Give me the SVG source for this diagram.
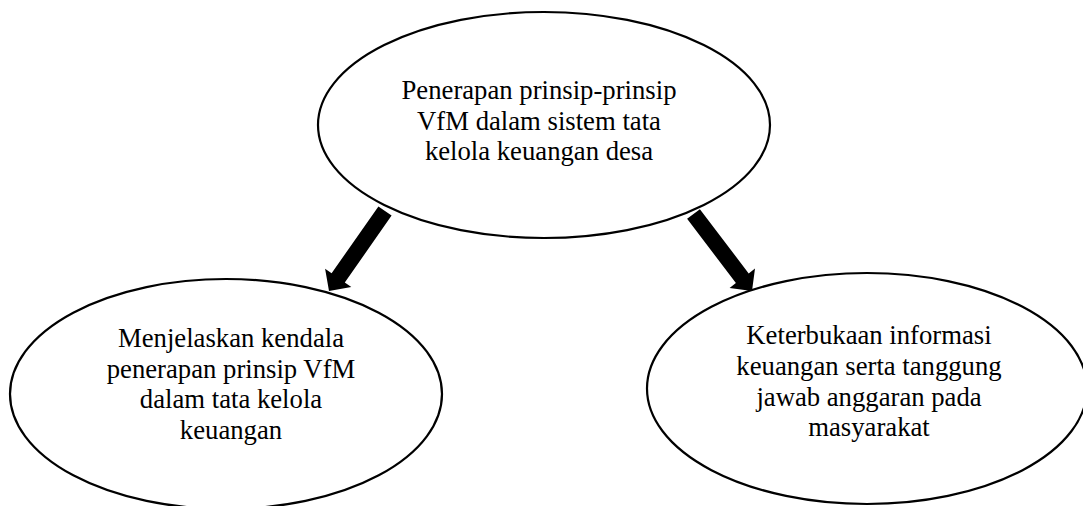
<svg xmlns="http://www.w3.org/2000/svg" width="1083" height="506" viewBox="0 0 1083 506">
<style>
.node ellipse{fill:#fff;stroke:#000;stroke-width:2.2}
.node text{font-family:"Liberation Serif","Times New Roman",serif;font-size:26.7px;fill:#000;text-anchor:middle}
.arrow{fill:#000;stroke:none}
</style>
<rect width="1083" height="506" fill="#fff"/>
<g id="node-top" class="node">
<ellipse cx="544" cy="125" rx="226" ry="113"/>
<text x="539" y="99">Penerapan prinsip-prinsip</text>
<text x="539" y="129.5">VfM dalam sistem tata</text>
<text x="539" y="160">kelola keuangan desa</text>
</g>
<g id="node-left" class="node">
<ellipse cx="226" cy="394" rx="216" ry="115"/>
<text x="231" y="347">Menjelaskan kendala</text>
<text x="231" y="377.5">penerapan prinsip VfM</text>
<text x="231" y="408">dalam tata kelola</text>
<text x="231" y="438.5">keuangan</text>
</g>
<g id="node-right" class="node">
<ellipse cx="867" cy="388.5" rx="220" ry="115.5"/>
<text x="869" y="344">Keterbukaan informasi</text>
<text x="869" y="375">keuangan serta tanggung</text>
<text x="869" y="406">jawab anggaran pada</text>
<text x="869" y="436">masyarakat</text>
</g>
<g id="connectors">
<polygon class="arrow" points="391.6,215.6 378.4,206.4 331.6,273.3 325.1,268.7 329,291 351.3,287.1 344.8,282.5"/>
<polygon class="arrow" points="699.9,209.2 687.1,218.8 735.9,283 729.6,287.9 752,291 755,268.5 748.7,273.4"/>
</g>
</svg>
